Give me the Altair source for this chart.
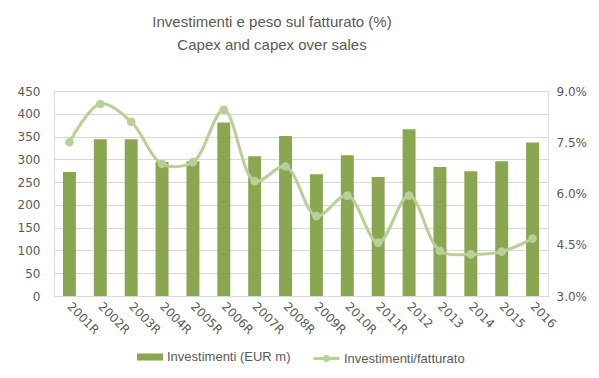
import altair as alt
import pandas as pd

years = ["2001R", "2002R", "2003R", "2004R", "2005R", "2006R", "2007R", "2008R",
         "2009R", "2010R", "2011R", "2012", "2013", "2014", "2015", "2016"]
capex = [272, 344, 344, 294, 296, 381, 307, 351, 267, 309, 261, 366, 283, 274, 296, 337]
ratio = [7.50, 8.62, 8.10, 6.87, 6.92, 8.45, 6.36, 6.79, 5.34, 5.94, 4.56, 5.94, 4.32, 4.22, 4.30, 4.68]

df = pd.DataFrame({"year": years, "capex": capex, "ratio": [r / 100 for r in ratio],
                   "s1": "Investimenti (EUR m)", "s2": "Investimenti/fatturato"})

BAR = "#8BA650"
LINE = "#B8CF97"
TXT = "#595959"
TICKFONT = "DejaVu Sans"
NARROW = "Liberation Sans"

x = alt.X("year:N", sort=years, title=None,
          scale=alt.Scale(paddingInner=0.58, paddingOuter=0.29),
          axis=alt.Axis(labelAngle=45, labelAlign="left", labelBaseline="middle",
                        labelFont=TICKFONT, labelFontSize=12, labelColor=TXT,
                        ticks=False, domainColor="#d9d9d9", labelPadding=8))

bars = alt.Chart(df).mark_bar(color=BAR).encode(
    x=x,
    y=alt.Y("capex:Q", title=None,
            scale=alt.Scale(domain=[0, 450]),
            axis=alt.Axis(orient="left", values=list(range(0, 451, 50)), grid=True,
                          gridColor="#d9d9d9", domain=False, ticks=False,
                          labelFont=TICKFONT, labelFontSize=12, labelColor=TXT,
                          labelPadding=14)),
    fill=alt.Fill("s1:N", scale=alt.Scale(range=[BAR]),
                  legend=alt.Legend(title=None, orient="none", legendX=83, legendY=253,
                                    symbolType="M-1,-0.27H1V0.27H-1Z", symbolSize=676,
                                    symbolStrokeWidth=0, labelFont=NARROW, labelFontSize=13,
                                    labelColor=TXT, padding=0, labelOffset=4)),
)

line = alt.Chart(df).mark_line(
    interpolate="catmull-rom", strokeWidth=3, color=LINE,
    point=alt.OverlayMarkDef(filled=True, size=45, color=LINE),
).encode(
    x=x,
    y=alt.Y("ratio:Q", title=None,
            scale=alt.Scale(domain=[0.03, 0.09]),
            axis=alt.Axis(orient="right", values=[0.03, 0.045, 0.06, 0.075, 0.09],
                          format=".1%", grid=False, domain=False, ticks=False,
                          labelFont=TICKFONT, labelFontSize=12, labelColor=TXT,
                          labelPadding=8)),
    stroke=alt.Stroke("s2:N", scale=alt.Scale(range=[LINE]),
                      legend=alt.Legend(title=None, orient="none", legendX=258, legendY=253,
                                        symbolType="M-1,0H1M0.15,0A0.15,0.15 0 1,1 -0.15,0A0.15,0.15 0 1,1 0.15,0",
                                        symbolSize=676, symbolStrokeWidth=3,
                                        symbolFillColor=LINE, labelFont=NARROW,
                                        labelFontSize=13, labelColor=TXT, padding=0,
                                        labelOffset=3)),
)

chart = alt.layer(bars, line).resolve_scale(y="independent", fill="independent", stroke="independent").properties(
    width=494, height=205,
    autosize=alt.AutoSizeParams(type="none"),
    padding={"left": 46, "top": 83, "right": 43, "bottom": 79},
    title=alt.TitleParams(["Investimenti e peso sul fatturato (%)", "Capex and capex over sales"],
                          font=NARROW, fontSize=15, fontWeight="normal", color=TXT,
                          anchor="middle", dx=-29, offset=32, lineHeight=23),
).configure_view(stroke=None).configure(background="white")

chart.save("out.html", embed_options={"renderer": "svg", "actions": False})
